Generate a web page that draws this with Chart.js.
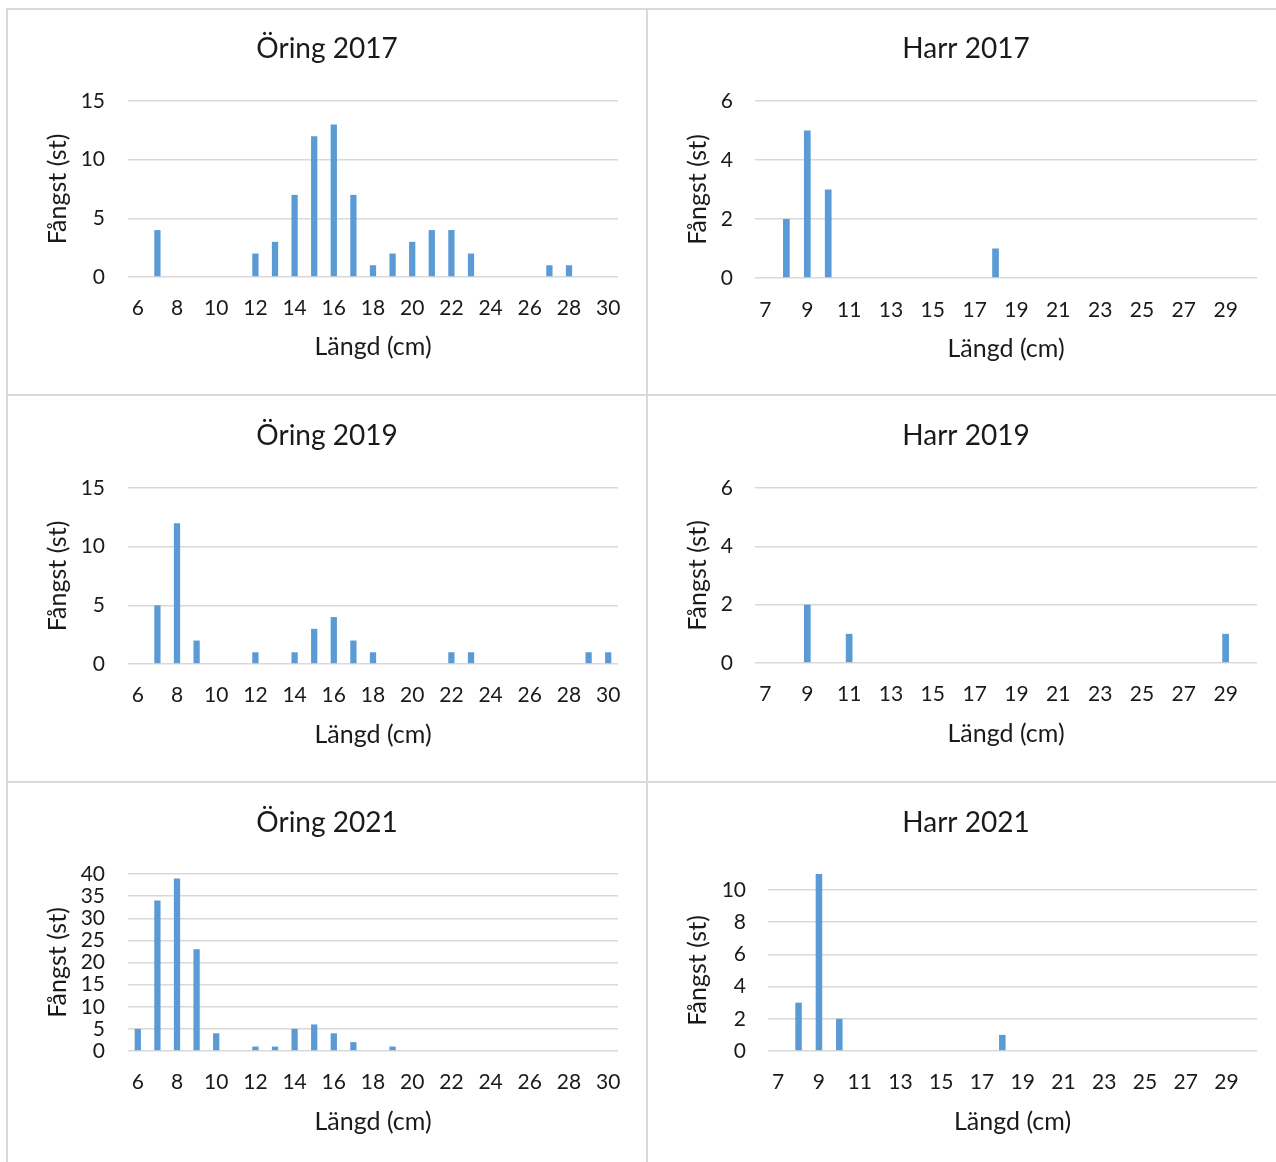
<!DOCTYPE html>
<html>
<head>
<meta charset="utf-8">
<script src="https://cdn.jsdelivr.net/npm/chart.js@4.4.1/dist/chart.umd.min.js"></script>
<style>
  html, body { margin: 0; padding: 0; background: #fff; }
  body { width: 1276px; height: 1162px; overflow: hidden; position: relative; }
  .panel { position: absolute; border: 2px solid #d9d9d9; box-sizing: border-box; background: #fff; }
  .panel canvas { position: absolute; left: 0; top: 0; }
</style>
</head>
<body>
<script>
// Length classes (cm)
const oringLengths = ['6','7','8','9','10','11','12','13','14','15','16','17','18','19','20','21','22','23','24','25','26','27','28','29','30'];
const harrLengths  = ['7','8','9','10','11','12','13','14','15','16','17','18','19','20','21','22','23','24','25','26','27','28','29','30'];

// Catch per length class (st)
const oring2017 = [0,4,0,0,0,0,2,3,7,12,13,7,1,2,3,4,4,2,0,0,0,1,1,0,0];
const oring2019 = [0,5,12,2,0,0,1,0,1,3,4,2,1,0,0,0,1,1,0,0,0,0,0,1,1];
const oring2021 = [5,34,39,23,4,0,1,1,5,6,4,2,0,1,0,0,0,0,0,0,0,0,0,0,0];
const harr2017  = [0,2,5,3,0,0,0,0,0,0,0,1,0,0,0,0,0,0,0,0,0,0,0,0];
const harr2019  = [0,0,2,0,1,0,0,0,0,0,0,0,0,0,0,0,0,0,0,0,0,0,1,0];
const harr2021  = [0,3,11,2,0,0,0,0,0,0,0,1,0,0,0,0,0,0,0,0,0,0,0,0];

const TEXT = '#1a1a1a', GRID = '#d9d9d9', BAR = '#5b9bd5';
const FAMILY = 'Lato, "Open Sans", sans-serif';
const F_TICK = 21, F_AXIS = 25, F_TITLE = 28, LH = 1.2;

Chart.defaults.font.family = FAMILY;

// Panel frames and where each chart's parts sit on the page
const panels = [
  { title: 'Öring 2017', labels: oringLengths, values: oring2017, yMax: 15, yStep: 5,
    box: [6, 8, 642, 388], area: [128, 618, 101, 277], titleY: 49, yTickRight: 105, yTitleX: 58, xTickY: 308, xTitleY: 347 },
  { title: 'Harr 2017', labels: harrLengths, values: harr2017, yMax: 6, yStep: 2,
    box: [646, 8, 640, 388], area: [755, 1257, 101, 278], titleY: 49, yTickRight: 733, yTitleX: 698, xTickY: 310, xTitleY: 349 },
  { title: 'Öring 2019', labels: oringLengths, values: oring2019, yMax: 15, yStep: 5,
    box: [6, 394, 642, 389], area: [128, 618, 488, 664], titleY: 436, yTickRight: 105, yTitleX: 58, xTickY: 695, xTitleY: 735 },
  { title: 'Harr 2019', labels: harrLengths, values: harr2019, yMax: 6, yStep: 2,
    box: [646, 394, 640, 389], area: [755, 1257, 488, 663], titleY: 436, yTickRight: 733, yTitleX: 698, xTickY: 694, xTitleY: 734 },
  { title: 'Öring 2021', labels: oringLengths, values: oring2021, yMax: 40, yStep: 5,
    box: [6, 781, 642, 392], area: [128, 618, 874, 1051], titleY: 823, yTickRight: 105, yTitleX: 58, xTickY: 1082, xTitleY: 1122 },
  { title: 'Harr 2021', labels: harrLengths, values: harr2021, yMax: 10, yStep: 2,
    box: [646, 781, 640, 392], area: [768, 1257, 890, 1051], titleY: 823, yTickRight: 746, yTitleX: 698, xTickY: 1082, xTitleY: 1122 }
];

function makePanel(p) {
  const div = document.createElement('div');
  div.className = 'panel';
  div.style.left = p.box[0] + 'px';
  div.style.top = p.box[1] + 'px';
  div.style.width = p.box[2] + 'px';
  div.style.height = p.box[3] + 'px';
  const cv = document.createElement('canvas');
  const W = p.box[2] - 4, H = p.box[3] - 4;
  cv.width = W; cv.height = H;
  cv.style.width = W + 'px'; cv.style.height = H + 'px';
  div.appendChild(cv);
  document.body.appendChild(div);

  const ox = p.box[0] + 2, oy = p.box[1] + 2;
  const aL = p.area[0] - ox, aR = p.area[1] - ox, aT = p.area[2] - oy, aB = p.area[3] - oy;
  const side = W - aR;            // equal side padding keeps the title centred on the panel
  const tLH = F_TITLE * LH, axLH = F_AXIS * LH, tkLH = F_TICK * LH;
  const titleC = p.titleY - oy;

  new Chart(cv, {
    type: 'bar',
    data: {
      labels: p.labels,
      datasets: [{
        data: p.values,
        backgroundColor: BAR,
        categoryPercentage: 1,
        barPercentage: 0.32,
        clip: false
      }]
    },
    options: {
      responsive: false,
      animation: false,
      devicePixelRatio: 1,
      layout: { padding: { left: side, right: side, top: 0, bottom: 0 } },
      plugins: {
        legend: { display: false },
        tooltip: { enabled: false },
        title: {
          display: true,
          text: p.title,
          color: TEXT,
          font: { size: F_TITLE, weight: 'normal', lineHeight: LH },
          padding: { top: titleC - tLH / 2, bottom: aT - titleC - tLH / 2 }
        }
      },
      scales: {
        x: {
          grid: { display: false, drawTicks: false },
          border: { display: false },
          ticks: {
            autoSkip: false,
            maxRotation: 0,
            color: TEXT,
            font: { size: F_TICK, lineHeight: LH },
            padding: (p.xTickY - oy) - aB - tkLH / 2,
            callback(v, i) { return i % 2 === 0 ? this.getLabelForValue(v) : ''; }
          },
          title: {
            display: true,
            text: 'Längd (cm)',
            color: TEXT,
            font: { size: F_AXIS, lineHeight: LH },
            padding: { top: 0, bottom: H - (p.xTitleY - oy) - axLH / 2 }
          },
          afterFit(s) { s.height = H - aB; }
        },
        y: {
          min: 0,
          max: p.yMax,
          grid: { color: GRID, lineWidth: 1.5, drawTicks: false },
          border: { display: false },
          ticks: {
            stepSize: p.yStep,
            autoSkip: false,
            color: TEXT,
            font: { size: F_TICK, lineHeight: LH },
            padding: aL - (p.yTickRight - ox)
          },
          title: {
            display: true,
            text: 'Fångst (st)',
            color: TEXT,
            font: { size: F_AXIS, lineHeight: LH },
            padding: { top: Math.max(0, (p.yTitleX - ox) - side - axLH / 2), bottom: 0 }
          },
          afterFit(s) { s.width = aL - side; }
        }
      }
    }
  });
}

panels.forEach(makePanel);
</script>
</body>
</html>
